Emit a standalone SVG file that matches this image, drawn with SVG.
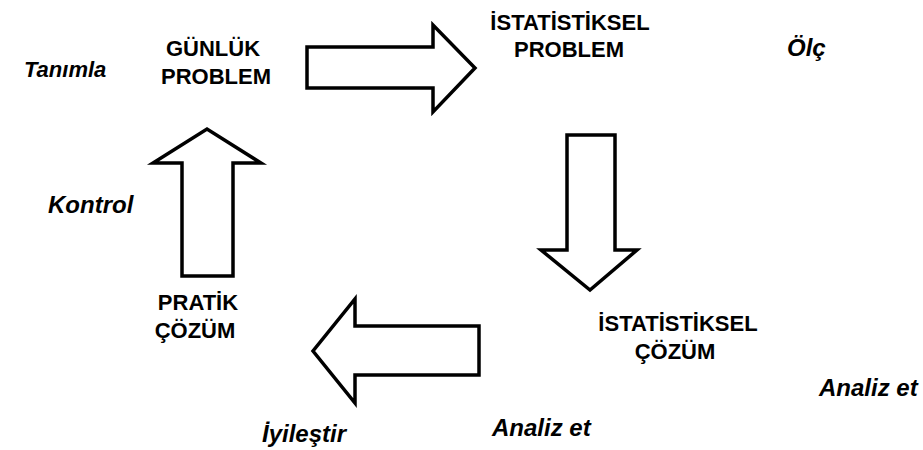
<svg xmlns="http://www.w3.org/2000/svg" width="923" height="450" viewBox="0 0 923 450">
<style>
.arrow{fill:#fff;stroke:#000;stroke-width:3.5;stroke-linejoin:miter;stroke-miterlimit:10}
.lbl{font-family:"Liberation Sans",Arial,sans-serif;font-weight:bold;font-size:22px;fill:#000;text-anchor:middle}
.verb{font-family:"Liberation Sans",Arial,sans-serif;font-weight:bold;font-style:italic;font-size:24px;fill:#000}
</style>
<rect width="923" height="450" fill="#fff"/>
<g id="connectors">
<path class="arrow" d="M307,47 H433 V25 L475,68 L433,112 V88 H307 Z"/>
<path class="arrow" d="M567,135 H615 V250 H637 L590,290 L541,250 H567 Z"/>
<path class="arrow" d="M479,326 H355 V299 L313,351 L355,403 V375 H479 Z"/>
<path class="arrow" d="M182,276 V163 H153 L207,129 L261,163 H233 V276 Z"/>
</g>
<g id="gunluk-problem"><text class="lbl" x="213" y="56">GÜNLÜK</text><text class="lbl" x="216" y="84">PROBLEM</text></g>
<g id="istatistiksel-problem"><text class="lbl" x="570" y="30">İSTATİSTİKSEL</text><text class="lbl" x="569" y="57">PROBLEM</text></g>
<g id="istatistiksel-cozum"><text class="lbl" x="678" y="331">İSTATİSTİKSEL</text><text class="lbl" x="675" y="359">ÇÖZÜM</text></g>
<g id="pratik-cozum"><text class="lbl" x="198" y="310">PRATİK</text><text class="lbl" x="195" y="338">ÇÖZÜM</text></g>
<g id="verbs">
<text class="verb" x="24" y="77" style="font-size:22px">Tanımla</text>
<text class="verb" x="787" y="56">Ölç</text>
<text class="verb" x="48" y="213">Kontrol</text>
<text class="verb" x="262" y="442">İyileştir</text>
<text class="verb" x="492" y="436">Analiz et</text>
<text class="verb" x="819" y="396">Analiz et</text>
</g>
</svg>
